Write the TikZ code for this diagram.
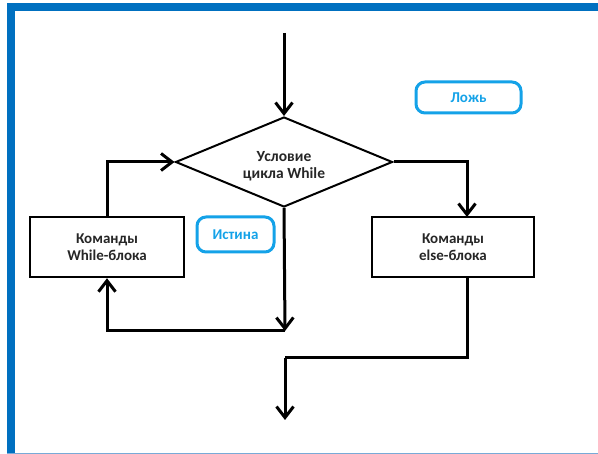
\documentclass[tikz,border=0pt]{standalone}
\usepackage{fontspec}
\setmainfont{Carlito}
\usetikzlibrary{shapes.geometric,arrows.meta}
\definecolor{framecol}{RGB}{0,112,192}
\definecolor{framelight}{RGB}{120,170,215}
\definecolor{labcol}{RGB}{20,162,232}
\tikzset{
  flow/.style={line width=3pt, -{Straight Barb[length=11pt,width=17pt,line width=3pt]}},
  plain/.style={line width=3pt},
  cmdbox/.style={draw, line width=2.5pt, rectangle, inner sep=0pt, align=center,
    font=\fontsize{15}{17}\selectfont\bfseries, text=black!85},
  condbox/.style={draw, line width=2pt, diamond, aspect=2.4, inner sep=0pt,
    font=\fontsize{15.5}{16.5}\selectfont\bfseries, text=black!85},
  labbox/.style={draw=labcol, line width=3pt, rounded corners=9pt, inner sep=0pt,
    text=labcol, font=\fontsize{15}{17}\selectfont\bfseries}
}
\begin{document}
\begin{tikzpicture}[x=1pt,y=-1pt]
\useasboundingbox (0,0) rectangle (598,454);
% frame
\fill[framecol] (7,3) rectangle (598,11);
\fill[framecol] (7,3) rectangle (15,454);
\draw[framelight, line width=1pt] (7,453.5) -- (598,453.5);
% nodes
\node[condbox, minimum width=217pt, minimum height=90pt] (cond) at (284,162)
  {\smash{\begin{tabular}[t]{@{}c@{}}Условие\\цикла While\end{tabular}}};
\node[cmdbox, minimum width=154pt, minimum height=60pt] (wbox) at (107,247) {Команды\\While-блока};
\node[cmdbox, minimum width=162pt, minimum height=60pt] (ebox) at (453,247) {Команды\\else-блока};
\node[labbox, minimum width=77pt, minimum height=35pt] (ist) at (235.5,234.5) {Истина};
\node[labbox, minimum width=105pt, minimum height=31pt] (lozh) at (468.5,97.5) {Ложь};
% coordinates
\coordinate (start) at (284,33);
\coordinate (j1) at (285,331);
\coordinate (ein) at (467,217);
\coordinate (eout) at (467,277);
\coordinate (j2) at (285,358);
\coordinate (fin) at (285,420);
% connectors
\draw[flow] (start) -- (cond.north);
\draw[flow] (wbox.north) |- (cond.west);
\draw[flow] (cond.south) -- (j1);
\draw[flow] (j1) -| (wbox.south);
\draw[flow] (cond.east) -| (ein);
\draw[plain] (eout) |- (j2);
\draw[flow] (j2) -- (fin);
\end{tikzpicture}
\end{document}
